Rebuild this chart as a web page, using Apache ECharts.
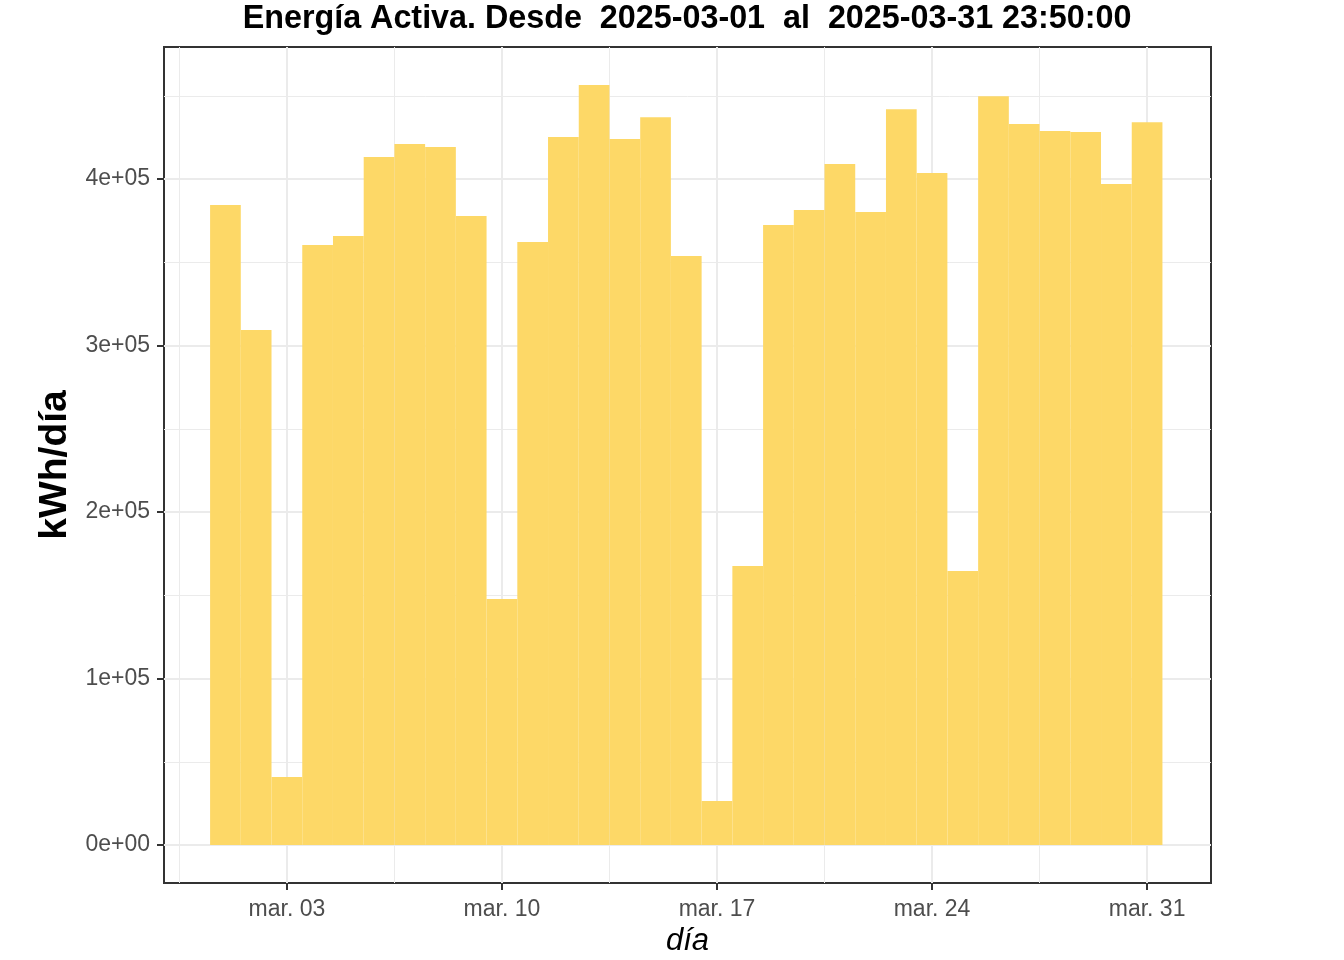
<!DOCTYPE html>
<html>
<head>
<meta charset="utf-8">
<script src="https://cdn.jsdelivr.net/npm/echarts@6/dist/echarts.min.js"></script>
<style>html,body{margin:0;padding:0;background:#fff}#c{width:1344px;height:960px}</style>
</head>
<body>
<div id="c"></div>
<script>
// Day of March (1..31)
const days = [1,2,3,4,5,6,7,8,9,10,11,12,13,14,15,16,17,18,19,20,21,22,23,24,25,26,27,28,29,30,31];
// Daily active energy, kWh/día
const energy = [384400,309300,40800,360400,365800,413200,421000,419200,377800,147700,362200,425200,456500,424000,437200,353800,26400,167600,372400,381400,409000,380200,442000,403600,164600,449800,433000,428800,428200,397000,434200];
const xTickValues = [3,10,17,24,31];
const xTickLabels = ['mar. 03','mar. 10','mar. 17','mar. 24','mar. 31'];
const xMinorValues = [-0.5,6.5,13.5,20.5,27.5];
const yTickValues = [0,100000,200000,300000,400000];
const yTickLabels = ['0e+00','1e+05','2e+05','3e+05','4e+05'];
const yMinorValues = [50000,150000,250000,350000,450000];

const FONT = "'Liberation Sans', Arial, Helvetica, sans-serif";
const xMin = -1.0, xMax = 33.08;
const yMin = -22825, yMax = 479325;

const gridLines = [];
xMinorValues.forEach(v => gridLines.push({xAxis: v, lineStyle: {color: '#EBEBEB', width: 1, type: 'solid'}}));
yMinorValues.forEach(v => gridLines.push({yAxis: v, lineStyle: {color: '#EBEBEB', width: 1, type: 'solid'}}));
xTickValues.forEach(v => gridLines.push({xAxis: v, lineStyle: {color: '#EBEBEB', width: 2, type: 'solid'}}));
yTickValues.forEach(v => gridLines.push({yAxis: v, lineStyle: {color: '#EBEBEB', width: 2, type: 'solid'}}));

const chart = echarts.init(document.getElementById('c'), null, {renderer: 'canvas'});
chart.setOption({
  animation: false,
  backgroundColor: '#ffffff',
  textStyle: {fontFamily: FONT},
  title: {
    text: 'Energía Activa. Desde  2025-03-01  al  2025-03-31 23:50:00',
    left: 682, top: -2, textAlign: 'center',
    textStyle: {fontFamily: FONT, fontSize: 32.3, fontWeight: 'bold', color: '#000'}
  },
  grid: {left: 164, right: 133, top: 47, bottom: 77, outerBoundsMode: 'none', containLabel: false,
         show: true, borderColor: '#333333', borderWidth: 2, backgroundColor: '#fff'},
  xAxis: {
    type: 'value', min: xMin, max: xMax,
    name: 'día', nameLocation: 'middle', nameGap: 43,
    nameTextStyle: {fontFamily: FONT, fontSize: 31, fontStyle: 'italic', color: '#000'},
    axisLine: {show: false, onZero: false},
    axisTick: {show: true, length: 7, customValues: xTickValues, lineStyle: {color: '#333333', width: 2}},
    axisLabel: {
      customValues: xTickValues, margin: 15, fontSize: 23, color: '#4D4D4D', fontFamily: FONT,
      formatter: v => { const i = xTickValues.indexOf(v); return i >= 0 ? xTickLabels[i] : ''; }
    },
    splitLine: {show: false}
  },
  yAxis: {
    type: 'value', min: yMin, max: yMax,
    name: 'kWh/día', nameLocation: 'middle', nameGap: 83,
    nameTextStyle: {fontFamily: FONT, fontSize: 39, fontWeight: 'bold', color: '#000'},
    axisLine: {show: false, onZero: false},
    axisTick: {show: true, length: 7, customValues: yTickValues, lineStyle: {color: '#333333', width: 2}},
    axisLabel: {
      customValues: yTickValues, margin: 14, fontSize: 23, color: '#4D4D4D', fontFamily: FONT,
      padding: [8, 0, 0, 0],
      formatter: v => { const i = yTickValues.indexOf(v); return i >= 0 ? yTickLabels[i] : ''; }
    },
    splitLine: {show: false}
  },
  series: [{
    type: 'bar',
    data: days.map((d, i) => [d, energy[i]]),
    barWidth: 30.7,
    itemStyle: {color: '#FDD867'},
    z: 2,
    markLine: {
      silent: true, symbol: 'none', z: 1, animation: false,
      label: {show: false},
      emphasis: {disabled: true},
      data: gridLines
    }
  }]
});
</script>
</body>
</html>
